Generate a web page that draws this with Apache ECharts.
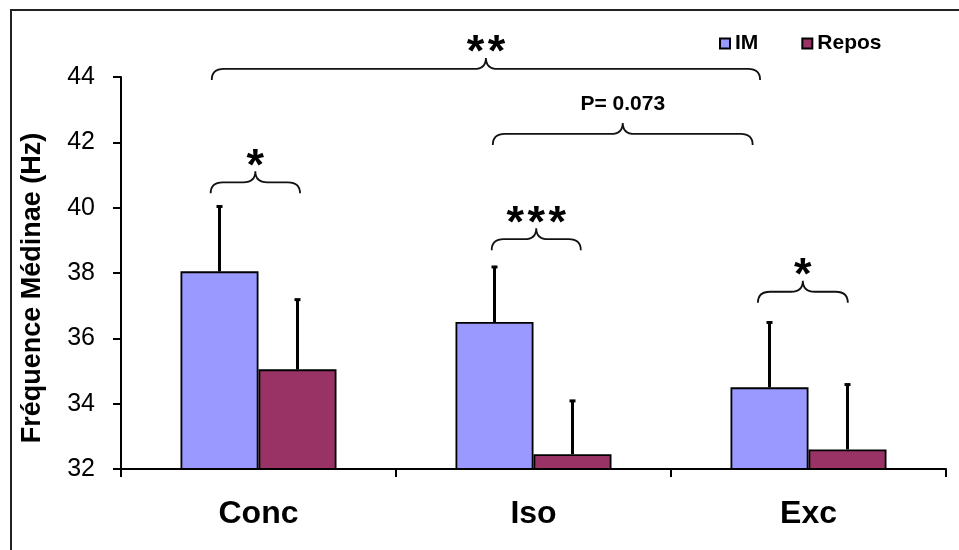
<!DOCTYPE html>
<html>
<head>
<meta charset="utf-8">
<script src="https://cdn.jsdelivr.net/npm/echarts@6/dist/echarts.min.js"></script>
<style>
  html, body { margin: 0; padding: 0; background: #fff; }
  #chart { width: 959px; height: 550px; }
</style>
</head>
<body>
<div id="chart"></div>
<script>
// 数据
const categories = ["Conc", "Iso", "Exc"];
const imValues = [38.05, 36.5, 34.5];
const imErrors = [2.0, 1.7, 2.0];
const reposValues = [35.05, 32.45, 32.6];
const reposErrors = [2.15, 1.65, 2.0];
const yTicks = [32, 34, 36, 38, 40, 42, 44];

// 显著性括号 (x 按类别宽度计, y 为括号末端的值)
const braceStart = [0.326, 1.348, 2.316, 1.352, 0.33];
const braceEnd = [0.651, 1.672, 2.643, 2.297, 2.324];
const braceY = [40.44, 38.7, 37.09, 41.92, 43.91];
const braceLabels = ["*", "***", "*", "P= 0.073", "**"];

const FONT = "'Liberation Sans', Arial, sans-serif";
const BAR_W = 78;

let myChart = echarts.init(document.getElementById("chart"));

// 误差线
function errorBar(offset) {
  return function (params, api) {
    let base = api.coord([api.value(0), api.value(1)]);
    let top = api.coord([api.value(0), api.value(1) + api.value(2)]);
    let x = base[0] + offset;
    return {
      type: "group",
      children: [
        {
          type: "line",
          shape: { x1: x, y1: base[1], x2: x, y2: top[1] },
          style: { stroke: "#000", lineWidth: 3 }
        },
        {
          type: "rect",
          shape: { x: x - 3, y: top[1] - 1, width: 6, height: 3 },
          style: { fill: "#000" }
        }
      ]
    };
  };
}

// 括号
function braceItem(params, api) {
  let p1 = api.coord([api.value(0), api.value(2)]);
  let p2 = api.coord([api.value(1), api.value(2)]);
  let xa = p1[0], xb = p2[0], xm = (xa + xb) / 2;
  let yE = p1[1], yL = yE - 11, yP = yL - 11;
  let r = 12;
  let d = `M${xa},${yE} Q${xa},${yL} ${xa + r},${yL} L${xm - r},${yL} ` +
    `Q${xm},${yL} ${xm},${yP} Q${xm},${yL} ${xm + r},${yL} ` +
    `L${xb - r},${yL} Q${xb},${yL} ${xb},${yE}`;
  let children = [{
    type: "path",
    shape: { pathData: d },
    style: { fill: null, stroke: "#111", lineWidth: 1.8 }
  }];
  let label = braceLabels[params.dataIndex];
  if (/^\*+$/.test(label)) {
    let n = label.length, pitch = 21;
    for (let i = 0; i < n; i++) {
      children.push({
        type: "text",
        style: {
          text: "*",
          x: xm + (i - (n - 1) / 2) * pitch,
          y: yP - 4,
          align: "center",
          verticalAlign: "middle",
          font: "bold 45px " + FONT,
          fill: "#000"
        }
      });
    }
  } else {
    children.push({
      type: "text",
      style: {
        text: label,
        x: xm,
        y: yP - 19,
        align: "center",
        verticalAlign: "middle",
        font: "bold 21px " + FONT,
        fill: "#000"
      }
    });
  }
  return { type: "group", children: children };
}

let option = {
  animation: false,
  backgroundColor: "#fff",
  textStyle: { fontFamily: FONT },
  grid: { left: 121, right: 13, top: 77, bottom: 81 },
  legend: {
    left: 714,
    top: 28,
    itemWidth: 10,
    itemHeight: 10,
    itemGap: 43,
    icon: "rect",
    textStyle: { fontSize: 21, fontWeight: "bold", color: "#000", fontFamily: FONT },
    data: ["IM", "Repos"]
  },
  xAxis: [
    {
      type: "category",
      data: categories,
      axisLine: { lineStyle: { color: "#000", width: 2 } },
      axisTick: { show: true, length: 8, lineStyle: { color: "#000", width: 2 } },
      axisLabel: { color: "#000", fontSize: 32, fontWeight: "bold", margin: 29, fontFamily: FONT },
      splitLine: { show: false }
    },
    {
      type: "value",
      min: 0,
      max: 3,
      show: false
    }
  ],
  yAxis: {
    type: "value",
    min: yTicks[0],
    max: yTicks[yTicks.length - 1],
    interval: 2,
    name: "Fréquence Médinae (Hz)",
    nameLocation: "middle",
    nameRotate: 90,
    nameGap: 75,
    nameTextStyle: { fontSize: 27, fontWeight: "bold", color: "#000", fontFamily: FONT, padding: [0, 30, 0, 0] },
    axisLine: { show: true, lineStyle: { color: "#000", width: 2 } },
    axisTick: { show: true, length: 8, lineStyle: { color: "#000", width: 2 } },
    axisLabel: { color: "#000", fontSize: 25, margin: 26, fontFamily: FONT },
    splitLine: { show: false }
  },
  series: [
    {
      name: "IM",
      type: "bar",
      data: imValues,
      barWidth: BAR_W,
      barGap: "0%",
      itemStyle: { color: "#9999FF", borderColor: "#000", borderWidth: 1.8 }
    },
    {
      name: "Repos",
      type: "bar",
      data: reposValues,
      barWidth: BAR_W,
      barGap: "0%",
      itemStyle: { color: "#993366", borderColor: "#000", borderWidth: 1.8 }
    },
    {
      type: "custom",
      renderItem: errorBar(-BAR_W / 2),
      data: categories.map((c, i) => [i, imValues[i], imErrors[i]]),
      z: 5
    },
    {
      type: "custom",
      renderItem: errorBar(BAR_W / 2),
      data: categories.map((c, i) => [i, reposValues[i], reposErrors[i]]),
      z: 5
    },
    {
      type: "custom",
      xAxisIndex: 1,
      clip: false,
      renderItem: braceItem,
      data: braceStart.map((s, i) => [s, braceEnd[i], braceY[i]]),
      z: 6
    }
  ],
  graphic: [
    {
      type: "polyline",
      shape: { points: [[11, 560], [11, 10], [970, 10]] },
      style: { stroke: "#222", lineWidth: 2, fill: null }
    }
  ]
};

myChart.setOption(option, true);
</script>
</body>
</html>
